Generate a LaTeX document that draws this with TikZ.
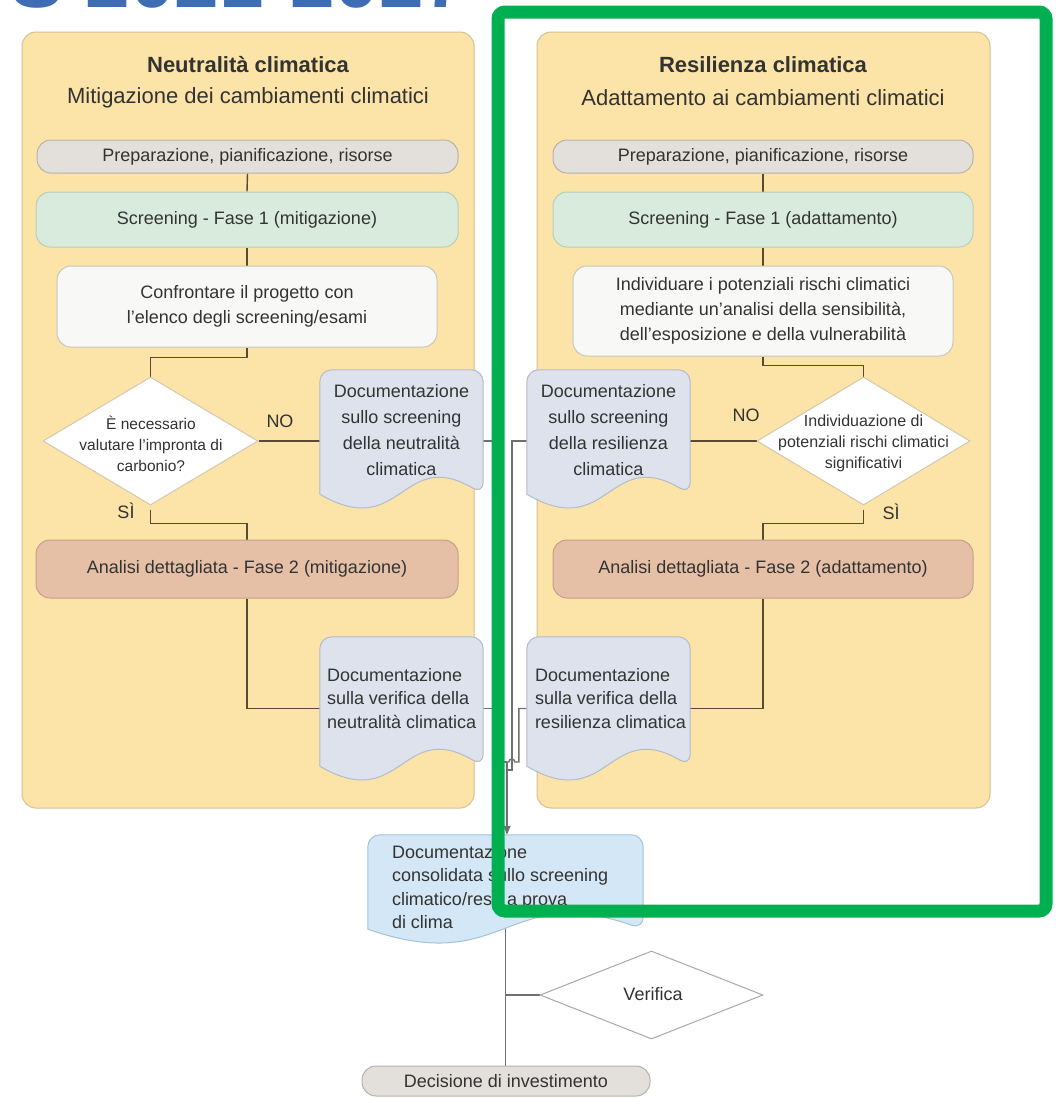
\documentclass[tikz,border=0pt]{standalone}
\usepackage{fontspec}
\setmainfont{Liberation Sans}
\usetikzlibrary{shapes.geometric,calc,arrows.meta}
\pgfdeclarelayer{panel}
\pgfdeclarelayer{conn}
\pgfdeclarelayer{bg}
\pgfdeclarelayer{top}
\pgfsetlayers{panel,conn,bg,main,top}
\definecolor{panelF}{HTML}{FCE4A8}
\definecolor{panelB}{HTML}{D6C08E}
\definecolor{prepF}{HTML}{E3DFDA}
\definecolor{prepB}{HTML}{B9B1A8}
\definecolor{scrF}{HTML}{D9EBDC}
\definecolor{scrB}{HTML}{B5CFBA}
\definecolor{wF}{HTML}{F8F8F6}
\definecolor{wB}{HTML}{C9C6C0}
\definecolor{anaF}{HTML}{E5C0A6}
\definecolor{anaB}{HTML}{C6A088}
\definecolor{docF}{HTML}{DDE2EC}
\definecolor{docB}{HTML}{B4BBCA}
\definecolor{consF}{HTML}{D3E7F6}
\definecolor{consB}{HTML}{A6C2DA}
\definecolor{diaB}{HTML}{D3C8AE}
\definecolor{verB}{HTML}{A8A8A8}
\definecolor{lineC}{HTML}{5B4A33}
\definecolor{glineC}{HTML}{707070}
\definecolor{txtc}{HTML}{333333}
\definecolor{grn}{HTML}{00B050}
\definecolor{blu}{HTML}{3F6DB5}
\newcommand\docshape[3]{%
 \begin{pgfonlayer}{bg}
 \path[draw=#3, fill=#2, line width=1pt] let \p1=(#1.north west), \p2=(#1.south east) in
 [rounded corners=12pt] (\x1,{\y2+14pt}) -- (\x1,\y1) -- (\x2,\y1) -- (\x2,{\y2+14pt})
 [sharp corners] .. controls ({0.5*\x1+0.5*\x2},{\y2+62pt}) and ({0.5*\x1+0.5*\x2},{\y2-34pt}) .. (\x1,{\y2+14pt}) -- cycle;
 \end{pgfonlayer}}
\begin{document}
\begin{tikzpicture}[x=1pt,y=-1pt,
 txt/.style={text=txtc, font=\fontsize{18}{25}\selectfont, align=center, inner sep=0pt},
 boxp/.style={txt, rounded corners=14pt, line width=1pt},
 prep/.style={boxp, draw=prepB, fill=prepF, minimum width=421pt, minimum height=33pt},
 scr/.style={boxp, draw=scrB, fill=scrF, minimum width=422pt, minimum height=55pt},
 wbox/.style={boxp, draw=wB, fill=wF, minimum width=380pt},
 ana/.style={boxp, draw=anaB, fill=anaF, minimum width=422pt, minimum height=58pt},
 docn/.style={inner sep=0pt, minimum width=163pt, minimum height=#1},
 doctxt/.style={txt, font=\fontsize{18}{26}\selectfont},
 doctxl/.style={txt, align=left, anchor=west, font=\fontsize{18}{23.5}\selectfont},
 dia/.style={diamond, draw=diaB, fill=white, line width=1pt, inner sep=0pt},
 diatxt/.style={txt, font=\fontsize{15.5}{21}\selectfont},
 cline/.style={draw=lineC, line width=1.4pt},
 gline/.style={draw=glineC, line width=1.4pt},
 panelbox/.style={draw=panelB, fill=panelF, rounded corners=14pt, line width=1pt, inner sep=0pt},
 ttl/.style={txt, font=\fontsize{22}{26}\selectfont\bfseries},
 subt/.style={txt, font=\fontsize{22}{26}\selectfont},
 lbl/.style={txt, font=\fontsize{18}{20}\selectfont}
]
\useasboundingbox (0,0) rectangle (1056,1098);
\begin{pgfonlayer}{panel}
\fill[white] (0,0) rectangle (1056,1098);
\node[panelbox, minimum width=452pt, minimum height=776pt] (PL) at (248,420) {};
\node[panelbox, minimum width=453pt, minimum height=776pt] (PR) at (763.5,420) {};
\end{pgfonlayer}

% cut-off header
\begin{scope}
\clip (0,0) rectangle (490,9);
\node[anchor=base west, inner sep=0pt, text=blu, font=\fontsize{80}{80}\selectfont\bfseries] (hdr) at (10,7) {S 2021-2027};
\end{scope}

% titles
\node[ttl] (tL) at (248,65) {Neutralità climatica};
\node[subt] (sL2) at (248,98) {Mitigazione dei cambiamenti climatici};
\node[ttl] (tR) at (763,65) {Resilienza climatica};
\node[subt] (sR2) at (763,98) {Adattamento ai cambiamenti climatici};

% left column
\node[prep] (pL) at (247.5,156.5) {Preparazione, pianificazione, risorse};
\node[scr] (sL) at (247,219.5) {Screening - Fase 1 (mitigazione)};
\node[wbox, minimum height=81pt] (cL) at (247,306.5) {Confrontare il progetto con\\l’elenco degli screening/esami};
\node[dia, minimum width=215pt, minimum height=128pt] (d1) at (150.5,441) {};
\node[diatxt] (d1t) at (151,444) {È necessario\\valutare l’impronta di\\carbonio?};
\node[lbl] (no1) at (280,421) {NO};
\node[lbl] (si1) at (126,511) {SÌ};
\node[ana] (aL) at (247,569) {Analisi dettagliata - Fase 2 (mitigazione)};
\node[docn=138pt] (dL1) at (401.5,439) {};
\node[doctxt] (dL1t) at ([yshift=9pt]dL1.center) {Documentazione\\sullo screening\\della neutralità\\climatica};
\node[docn=143pt] (dL2) at (401.5,708.5) {};
\node[doctxl] (dL2t) at ([xshift=7pt,yshift=10pt]dL2.west) {Documentazione\\sulla verifica della\\neutralità climatica};

% right column
\node[prep, minimum width=420pt] (pR) at (763,156.5) {Preparazione, pianificazione, risorse};
\node[scr, minimum width=420pt] (sR) at (763,219.5) {Screening - Fase 1 (adattamento)};
\node[wbox, minimum height=90pt] (cR) at (763,311) {Individuare i potenziali rischi climatici\\mediante un’analisi della sensibilità,\\dell’esposizione e della vulnerabilità};
\node[dia, minimum width=213pt, minimum height=128pt] (d2) at (863.5,441) {};
\node[diatxt, font=\fontsize{16}{21}\selectfont] (d2t) at (863.5,443) {Individuazione di\\potenziali rischi climatici\\significativi};
\node[lbl] (no2) at (746,415) {NO};
\node[lbl] (si2) at (891,512) {SÌ};
\node[ana, minimum width=420pt] (aR) at (763,569) {Analisi dettagliata - Fase 2 (adattamento)};
\node[docn=138pt] (dR1) at (608.5,439) {};
\node[doctxt] (dR1t) at ([yshift=9pt]dR1.center) {Documentazione\\sullo screening\\della resilienza\\climatica};
\node[docn=143pt] (dR2) at (608.5,708.5) {};
\node[doctxl] (dR2t) at ([xshift=8pt,yshift=10pt]dR2.west) {Documentazione\\sulla verifica della\\resilienza climatica};

% bottom
\node[docn=108pt, minimum width=275pt] (cons) at (505.5,889) {};
\node[doctxl] (const) at ([xshift=24pt,yshift=2pt]cons.west) {Documentazione\\consolidata sullo screening\\climatico/resa a prova\\di clima};
\node[dia, draw=verB, minimum width=223pt, minimum height=88pt] (ver) at (651.5,995) {};
\node[lbl] (vert) at (653,994) {Verifica};
\node[prep, minimum width=288pt, minimum height=30pt] (dec) at (506,1081) {Decisione di investimento};

\docshape{dL1}{docF}{docB}
\docshape{dL2}{docF}{docB}
\docshape{dR1}{docF}{docB}
\docshape{dR2}{docF}{docB}
\docshape{cons}{consF}{consB}

\begin{pgfonlayer}{conn}
\draw[cline] (pL.south) -- (sL.north);
\draw[cline] (sL.south) -- (cL.north);
\draw[cline] (cL.south) -- ++(0,10) -| (d1.north);
\draw[cline] (d1.east) -- (d1.east -| dL1.west);
\draw[cline] (d1.south) ++(0,4) -- ++(0,14) -| (aL.north);
\draw[cline] (aL.south) |- (dL2.west);
\draw[cline] (pR.south) -- (sR.north);
\draw[cline] (sR.south) -- (cR.north);
\draw[cline] (cR.south) -- ++(0,9) -| (d2.north);
\draw[cline] (d2.west) -- (d2.west -| dR1.east);
\draw[cline] (d2.south) ++(0,4) -- ++(0,14) -| (aR.north);
\draw[cline] (aR.south) |- (dR2.east);
% middle bus
\coordinate (jn) at (507,762);
\draw[gline] (d1.east -| dL1.east) -- ++(11,0) |- (jn);
\draw[gline] (dL2.east) -- ++(11,0) |- (jn);
\draw[gline] (d2.west -| dR1.west) -- ++(-15,0) |- ([yshift=-8pt]jn);
\draw[gline] (dR2.west) -- ++(-8,0) -- ++(0,53.5) -- ++(-4,0) arc[start angle=0,end angle=180,radius=3pt] -- (jn);
\draw[gline, -{Triangle[length=9pt,width=7pt]}] (jn) -- (cons.north -| jn);
\draw[gline] (cons.center) -- (cons.center |- dec.north);
\draw[gline] (ver.west) -- (ver.west -| cons.center);
\end{pgfonlayer}

\begin{pgfonlayer}{top}
\node[draw=grn, line width=13pt, rounded corners=7pt, minimum width=548pt, minimum height=899pt, inner sep=0pt] (hl) at (772,461.5) {};
\end{pgfonlayer}
\end{tikzpicture}
\end{document}
